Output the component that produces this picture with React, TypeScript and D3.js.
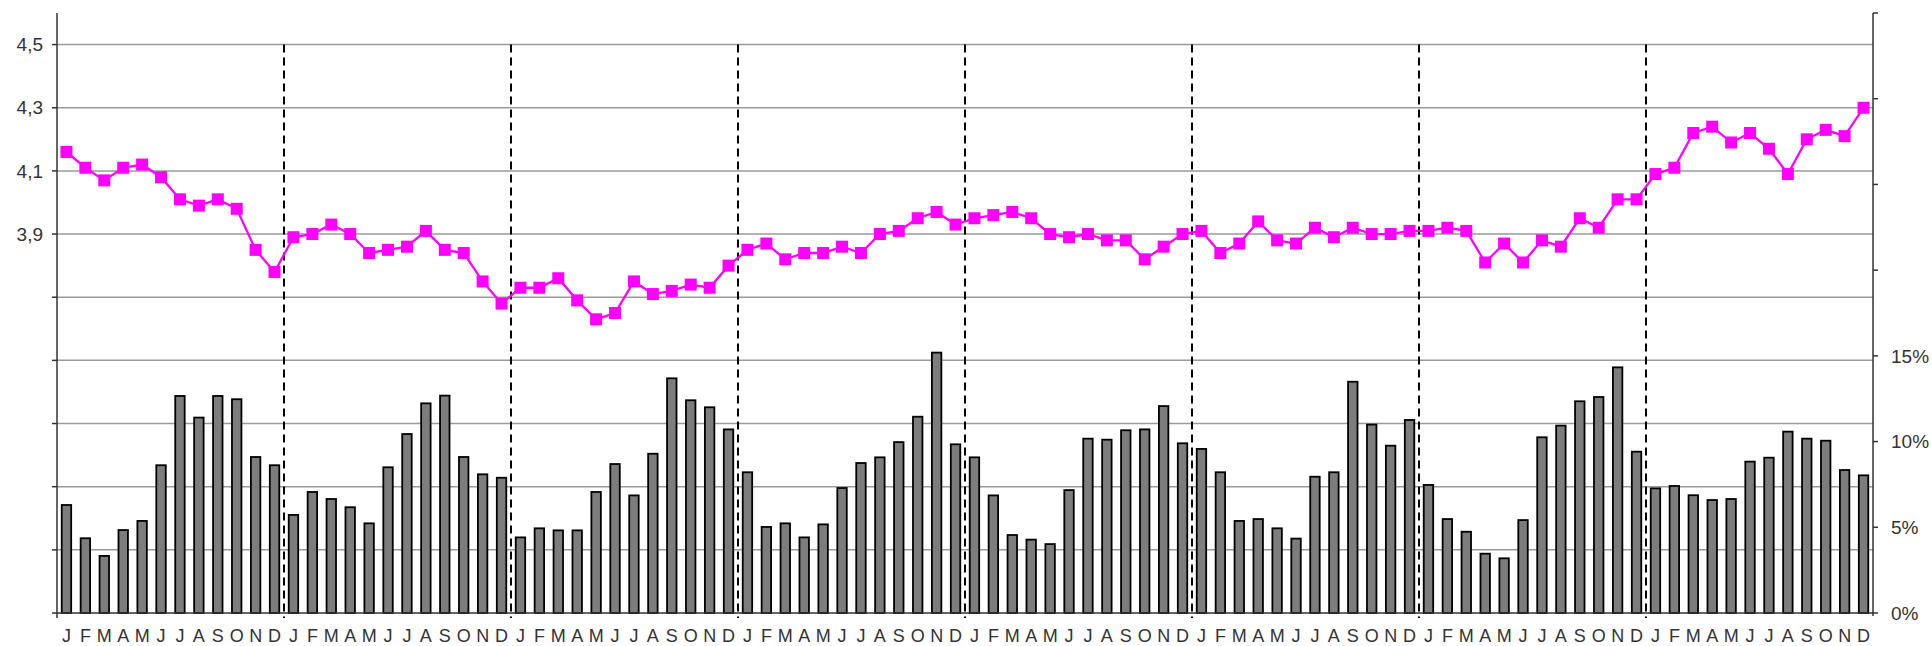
import React, { useEffect, useRef } from 'react';
import * as d3 from 'd3';

// month initials repeated for each of the 8 years
const months = ['J', 'F', 'M', 'A', 'M', 'J', 'J', 'A', 'S', 'O', 'N', 'D'];
const yearCount = 8;

// line series (left axis)
const lineValues = [
  4.16, 4.11, 4.07, 4.11, 4.12, 4.08, 4.01, 3.99, 4.01, 3.98, 3.85, 3.78,
  3.89, 3.90, 3.93, 3.90, 3.84, 3.85, 3.86, 3.91, 3.85, 3.84, 3.75, 3.68,
  3.73, 3.73, 3.76, 3.69, 3.63, 3.65, 3.75, 3.71, 3.72, 3.74, 3.73, 3.80,
  3.85, 3.87, 3.82, 3.84, 3.84, 3.86, 3.84, 3.90, 3.91, 3.95, 3.97, 3.93,
  3.95, 3.96, 3.97, 3.95, 3.90, 3.89, 3.90, 3.88, 3.88, 3.82, 3.86, 3.90,
  3.91, 3.84, 3.87, 3.94, 3.88, 3.87, 3.92, 3.89, 3.92, 3.90, 3.90, 3.91,
  3.91, 3.92, 3.91, 3.81, 3.87, 3.81, 3.88, 3.86, 3.95, 3.92, 4.01, 4.01,
  4.09, 4.11, 4.22, 4.24, 4.19, 4.22, 4.17, 4.09, 4.20, 4.23, 4.21, 4.30,
];

// bar series in percent (right axis)
const barValues = [
  6.30, 4.36, 3.33, 4.84, 5.37, 8.62, 12.66, 11.40, 12.66, 12.47, 9.10, 8.62,
  5.72, 7.06, 6.65, 6.17, 5.23, 8.50, 10.44, 12.23, 12.68, 9.10, 8.09, 7.89,
  4.41, 4.94, 4.82, 4.82, 7.06, 8.69, 6.86, 9.29, 13.69, 12.41, 12.00, 10.71,
  8.21, 5.02, 5.23, 4.41, 5.17, 7.29, 8.75, 9.08, 9.97, 11.45, 15.19, 9.84,
  9.08, 6.86, 4.55, 4.28, 4.02, 7.17, 10.17, 10.11, 10.66, 10.71, 12.07, 9.90,
  9.57, 8.21, 5.37, 5.48, 4.94, 4.34, 7.95, 8.21, 13.49, 10.99, 9.76, 11.26,
  7.47, 5.48, 4.74, 3.46, 3.19, 5.42, 10.25, 10.93, 12.35, 12.60, 14.33, 9.41,
  7.27, 7.41, 6.87, 6.59, 6.65, 8.83, 9.06, 10.58, 10.17, 10.05, 8.34, 8.03,
];

const leftTicks = [2.9, 3.1, 3.3, 3.5, 3.7, 3.9, 4.1, 4.3, 4.5];
const leftLabelled = [3.9, 4.1, 4.3, 4.5];
const rightTicks = [0, 5, 10, 15, 20, 25, 30, 35];
const rightLabelled = [0, 5, 10, 15];

const W = 1932;
const H = 646;
const FONT = '"Liberation Sans", Arial, sans-serif';

const App: React.FC = () => {
  const svgRef = useRef<SVGSVGElement>(null);

  useEffect(() => {
    if (!svgRef.current) return;
    const svg = d3.select(svgRef.current);
    svg.selectAll('*').remove();

    const left = 57, right = 1873, top = 13, bottom = 613;
    const idx = d3.range(lineValues.length);

    const x = d3.scaleBand<number>().domain(idx).range([left, right]).paddingInner(0.5).paddingOuter(0.25);
    const step = x.step();
    const cx = (i: number) => (x(i) as number) + x.bandwidth() / 2;
    const yL = d3.scaleLinear().domain([2.7, 4.6]).range([bottom, top]);
    const yR = d3.scaleLinear().domain([0, 35]).range([bottom, top]);

    // horizontal gridlines
    svg.append('g')
      .selectAll('line')
      .data(leftTicks)
      .enter()
      .append('line')
      .attr('x1', left).attr('x2', right)
      .attr('y1', d => yL(d)).attr('y2', d => yL(d))
      .attr('stroke', '#9a9a9a')
      .attr('stroke-width', 1.5);

    // bars
    svg.append('g')
      .selectAll('rect')
      .data(barValues)
      .enter()
      .append('rect')
      .attr('x', (d, i) => x(i) as number)
      .attr('y', d => yR(d))
      .attr('width', x.bandwidth())
      .attr('height', d => bottom - yR(d))
      .attr('fill', '#7d7d7d')
      .attr('stroke', '#000')
      .attr('stroke-width', 1.8);

    // year separators (between D and J)
    const seps = d3.range(1, yearCount).map(k => left + k * 12 * step);
    svg.append('g')
      .selectAll('line')
      .data(seps)
      .enter()
      .append('line')
      .attr('x1', d => d).attr('x2', d => d)
      .attr('y1', yL(4.5)).attr('y2', bottom + 5)
      .attr('stroke', '#000')
      .attr('stroke-width', 2)
      .attr('stroke-dasharray', '8,5');

    // axes lines
    svg.append('line')
      .attr('x1', left).attr('x2', right).attr('y1', bottom).attr('y2', bottom)
      .attr('stroke', '#333').attr('stroke-width', 1.5);
    svg.append('line')
      .attr('x1', left).attr('x2', left).attr('y1', top).attr('y2', bottom + 5)
      .attr('stroke', '#333').attr('stroke-width', 1.5);
    svg.append('line')
      .attr('x1', right).attr('x2', right).attr('y1', top).attr('y2', bottom + 3)
      .attr('stroke', '#333').attr('stroke-width', 1.5);

    // left ticks + labels
    svg.append('g')
      .selectAll('line')
      .data([2.7, ...leftTicks])
      .enter()
      .append('line')
      .attr('x1', left - 5).attr('x2', left)
      .attr('y1', d => yL(d)).attr('y2', d => yL(d))
      .attr('stroke', '#333').attr('stroke-width', 1.5);
    svg.append('g')
      .selectAll('text')
      .data(leftLabelled)
      .enter()
      .append('text')
      .attr('x', 43)
      .attr('y', d => yL(d))
      .attr('dy', '0.35em')
      .attr('text-anchor', 'end')
      .attr('font-family', FONT)
      .attr('font-size', 19)
      .attr('fill', '#333')
      .text(d => d3.format('.1f')(d).replace('.', ','));

    // right ticks + labels
    svg.append('g')
      .selectAll('line')
      .data(rightTicks)
      .enter()
      .append('line')
      .attr('x1', right).attr('x2', right + 5)
      .attr('y1', d => yR(d)).attr('y2', d => yR(d))
      .attr('stroke', '#333').attr('stroke-width', 1.5);
    svg.append('g')
      .selectAll('text')
      .data(rightLabelled)
      .enter()
      .append('text')
      .attr('x', 1891)
      .attr('y', d => yR(d))
      .attr('dy', '0.35em')
      .attr('font-family', FONT)
      .attr('font-size', 19)
      .attr('fill', '#333')
      .text(d => `${d}%`);

    // month labels
    svg.append('g')
      .selectAll('text')
      .data(idx)
      .enter()
      .append('text')
      .attr('x', d => cx(d))
      .attr('y', 641.5)
      .attr('text-anchor', 'middle')
      .attr('font-family', FONT)
      .attr('font-size', 18)
      .attr('fill', '#333')
      .text(d => months[d % 12]);

    // line + square markers
    const line = d3.line<number>().x((d, i) => cx(i)).y(d => yL(d));
    svg.append('path')
      .datum(lineValues)
      .attr('d', line)
      .attr('fill', 'none')
      .attr('stroke', '#ff00ff')
      .attr('stroke-width', 2.3);
    const sq = 12;
    svg.append('g')
      .selectAll('rect')
      .data(lineValues)
      .enter()
      .append('rect')
      .attr('x', (d, i) => cx(i) - sq / 2)
      .attr('y', d => yL(d) - sq / 2)
      .attr('width', sq)
      .attr('height', sq)
      .attr('fill', '#ff00ff');
  }, []);

  return (
    <svg
      ref={svgRef}
      width={W}
      height={H}
      style={{ position: 'absolute', left: 0, top: 0, background: '#fff' }}
    />
  );
};

export default App;
